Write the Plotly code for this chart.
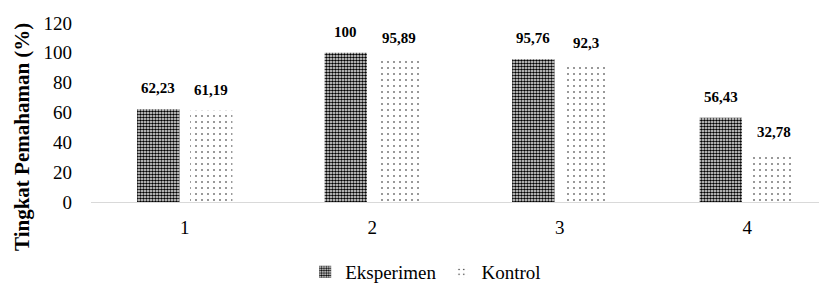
import plotly.graph_objects as go

categories = ["1", "2", "3", "4"]
eksperimen = [62.23, 100, 95.76, 56.43]
kontrol = [61.19, 95.89, 92.3, 32.78]
eksperimen_labels = ["62,23", "100", "95,76", "56,43"]
kontrol_labels = ["61,19", "95,89", "92,3", "32,78"]
series_names = ["Eksperimen", "Kontrol"]
y_ticks = [0, 20, 40, 60, 80, 100, 120]

SERIF = "Liberation Serif"

fig = go.Figure()
fig.add_trace(go.Bar(
    x=categories, y=eksperimen, name=series_names[0],
    textfont=dict(family=SERIF, size=19, color="black"),
    marker=dict(color="white", line=dict(width=0),
                pattern=dict(shape=".", fgcolor="black", bgcolor="white",
                             size=3, solidity=0.6, fillmode="replace")),
))
fig.add_trace(go.Bar(
    x=categories, y=kontrol, name=series_names[1],
    textfont=dict(family=SERIF, size=19, color="black"),
    marker=dict(color="white", line=dict(width=0),
                pattern=dict(shape=".", fgcolor="black", bgcolor="white",
                             size=6, solidity=0.05, fillmode="replace")),
))

annotations = []
for i, c in enumerate(categories):
    annotations.append(dict(x=i, y=eksperimen[i], xref="x", yref="y", text=eksperimen_labels[i],
                            showarrow=False, xshift=-26.5, yshift=21, yanchor="middle",
                            font=dict(family=SERIF, size=15, color="black", weight="bold")))
    annotations.append(dict(x=i, y=kontrol[i], xref="x", yref="y", text=kontrol_labels[i],
                            showarrow=False, xshift=26.5, yshift=21, yanchor="middle",
                            font=dict(family=SERIF, size=15, color="black", weight="bold")))
annotations.append(dict(x=(14 - 83) / 736, y=(194 - 129) / 179, xref="paper", yref="paper",
                        text="Tingkat Pemahaman (%)", textangle=-90, showarrow=False,
                        xanchor="center", yanchor="middle",
                        font=dict(family=SERIF, size=21, color="black", weight="bold")))

fig.update_layout(
    width=819, height=276,
    margin=dict(l=83, r=0, t=15, b=82),
    paper_bgcolor="white", plot_bgcolor="white",
    barmode="group", bargap=0.435, bargroupgap=0.2,
    font=dict(family=SERIF, size=19, color="black"),
    showlegend=True,
    legend=dict(orientation="h", xref="container", x=0.51, xanchor="center",
                yref="container", y=1 - 264 / 276, yanchor="middle",
                font=dict(family="Liberation Serif, serif", size=19, color="black",
                          weight="normal", style="normal"),
                itemwidth=30, traceorder="normal"),
    annotations=annotations,
    xaxis=dict(range=[-0.5, 3.425], showgrid=False, showline=True, linecolor="#d9d9d9",
               linewidth=1, ticks="outside", ticklen=8, tickcolor="rgba(0,0,0,0)",
               tickfont=dict(family=SERIF, size=19, color="black"), zeroline=False),
    yaxis=dict(range=[0, 120], tickvals=y_ticks, showgrid=False, showline=False,
               zeroline=False, ticks="", ticklabelstandoff=18,
               tickfont=dict(family=SERIF, size=19, color="black")),
)

fig.write_html("out.html")
